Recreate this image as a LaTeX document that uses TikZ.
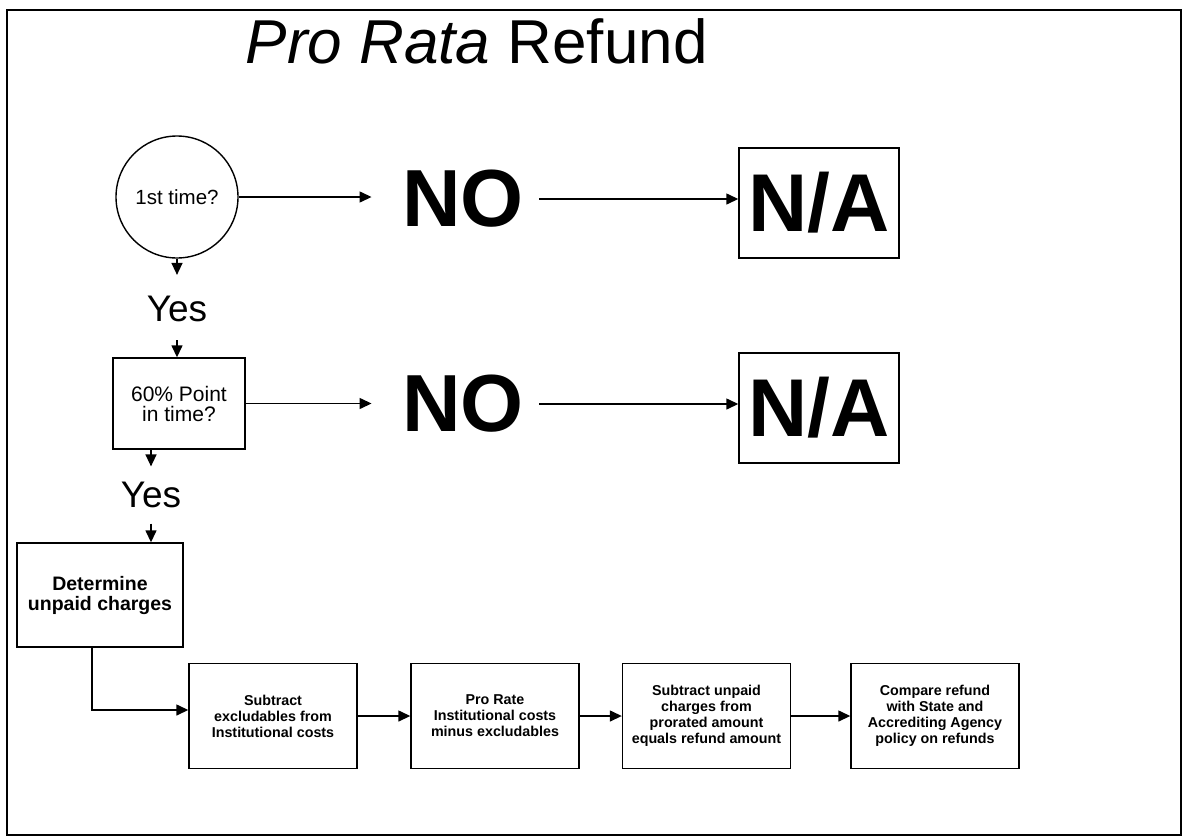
\documentclass[tikz,border=0pt]{standalone}
\usepackage{fontspec}
\setmainfont{Liberation Sans}
\usetikzlibrary{arrows.meta}
\tikzset{
  arr/.style={-{Triangle[length=12pt,width=11pt]}},
  box/.style={draw, rectangle, inner sep=0pt, align=center},
  flowbox/.style={box, minimum width=168pt, minimum height=105pt,
    font=\bfseries\fontsize{14.3}{16}\selectfont},
  bigno/.style={inner sep=0pt, font=\bfseries\fontsize{81}{90}\selectfont},
  nabox/.style={box, minimum width=160pt, minimum height=110pt,
    font=\bfseries\fontsize{82}{90}\selectfont},
  yestext/.style={inner sep=0pt, font=\fontsize{37}{40}\selectfont},
}
\begin{document}
\begin{tikzpicture}[x=1pt,y=-1pt,line width=1.4pt]
\useasboundingbox (0,0) rectangle (1184,839);
\draw[line width=1.8pt] (7,10) rectangle (1181,835);

\node[anchor=base west, inner sep=0pt, font=\fontsize{62}{70}\selectfont] (title) at (245,63) {\textit{Pro Rata} Refund};

% Row 1
\node[draw, circle, minimum size=122pt, inner sep=0pt, font=\fontsize{20.5}{24}\selectfont] (q1) at (177,197) {1st time?};
\node[bigno] (no1) at (463,199) {NO};
\node[nabox] (na1) at (819,203) {N/A};
\draw[arr, shorten >=30pt] (q1.east) -- (q1.east -| no1.west);
\draw[arr, shorten <=15pt] (no1.east) -- (no1.east -| na1.west);

\node[yestext] (yes1) at (177,308.5) {Yes};
\draw[arr, shorten >=20pt] (q1.south) -- (yes1.north);

% Row 2
\node[box, minimum width=132pt, minimum height=91pt, font=\fontsize{21}{20}\selectfont] (q2) at (179,403.5) {60\% Point\\in time?};
\draw[arr, shorten <=18pt] (yes1.south) -- (yes1.south |- q2.north);
\node[bigno] (no2) at (463,404) {NO};
\node[nabox] (na2) at (819,408) {N/A};
\draw[arr, shorten >=30pt] (q2.east) -- (q2.east -| no2.west);
\draw[arr, shorten <=15pt] (no2.east) -- (no2.east -| na2.west);

\node[yestext] (yes2) at (151,495) {Yes};
\draw[arr, shorten >=15pt] (yes2.north |- q2.south) -- (yes2.north);

% Determine
\node[box, minimum width=166pt, minimum height=104pt, font=\bfseries\fontsize{19.5}{20}\selectfont] (det) at (100,595) {Determine\\unpaid charges};
\draw[arr, shorten <=15pt] (yes2.south) -- (yes2.south |- det.north);

% Bottom row
\node[flowbox] (b1) at (273,716) {Subtract\\excludables from\\Institutional costs};
\node[flowbox] (b2) at (495,716) {Pro Rate\\Institutional costs\\minus excludables};
\node[flowbox] (b3) at (706.5,716) {Subtract unpaid\\charges from\\prorated amount\\equals refund amount};
\node[flowbox] (b4) at (935,716) {Compare refund\\with State and\\Accrediting Agency\\policy on refunds};

\draw[arr] ([xshift=-8pt]det.south) |- ([yshift=6pt]b1.west);
\draw[arr] (b1.east) -- (b2.west);
\draw[arr] (b2.east) -- (b3.west);
\draw[arr] (b3.east) -- (b4.west);
\end{tikzpicture}
\end{document}
